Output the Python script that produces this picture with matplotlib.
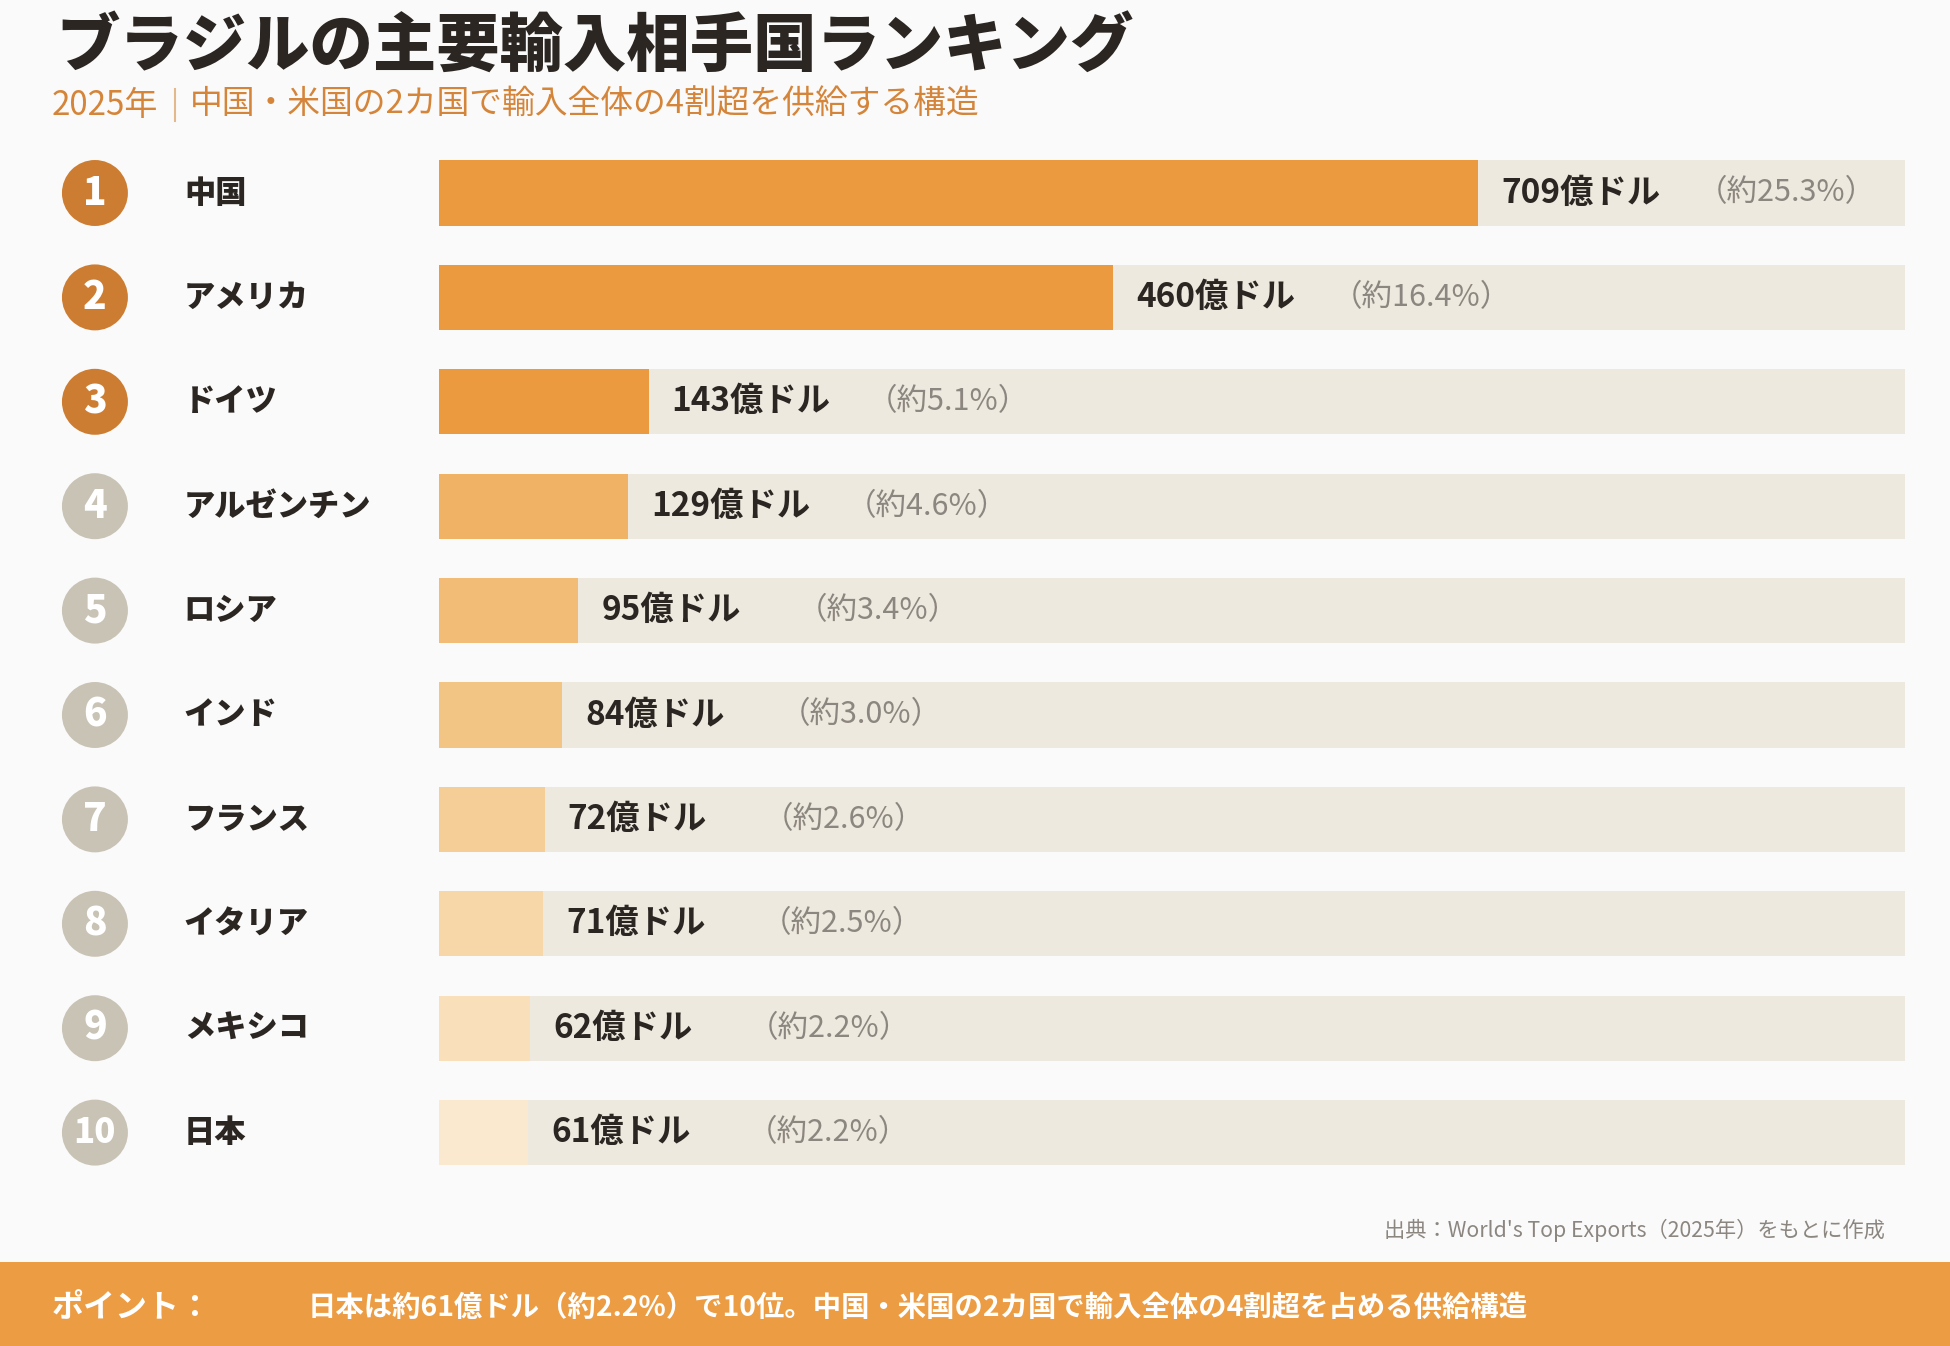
import matplotlib.pyplot as plt
import numpy as np

plt.rcParams['font.family'] = ['Noto Sans CJK JP', 'DejaVu Sans']

# Data
countries = ["中国", "アメリカ", "ドイツ", "アルゼンチン", "ロシア",
             "インド", "フランス", "イタリア", "メキシコ", "日本"]
values = [709, 460, 143, 129, 95, 84, 72, 71, 62, 61]  # 億ドル
shares = [25.3, 16.4, 5.1, 4.6, 3.4, 3.0, 2.6, 2.5, 2.2, 2.2]  # %
ranks = list(range(1, 11))
track_max = 1000

bar_colors = ["#EC9A40", "#EC9A40", "#EC9A40", "#F0B366", "#F2BC76",
              "#F3C585", "#F5CE97", "#F7D7A7", "#F9E0BB", "#FBE9CF"]
badge_colors = ["#CD7D31"] * 3 + ["#C9C3B6"] * 7

W, H = 1950, 1346
fig = plt.figure(figsize=(W / 100, H / 100), dpi=100)
fig.patch.set_facecolor("#FAFAFA")

# Title
fig.text(56 / W, 1 - 48 / H, "ブラジルの主要輸入相手国ランキング",
         fontsize=45.6, fontweight="black", color="#2B2622", va="center", ha="left")
fig.text(52 / W, 1 - 105 / H, "2025年", fontsize=23.8, color="#D5853A",
         va="center", ha="left")
fig.add_artist(plt.Line2D([175 / W, 175 / W], [1 - 89 / H, 1 - 121 / H],
                          color="#E3B88A", lw=1.5))
fig.text(190 / W, 1 - 105 / H, "中国・米国の2カ国で輸入全体の4割超を供給する構造",
         fontsize=23.6, color="#D5853A", va="center", ha="left")

# Bars
row_h = 104.4
ax = fig.add_axes([439 / W, 161.2 / H, 1466 / W, 10 * row_h / H])
ax.set_xlim(0, track_max)
ax.set_ylim(9.5, -0.5)
ax.axis("off")

y = np.arange(len(countries))
ax.barh(y, [track_max] * len(y), height=0.623, color="#EEE9DE", zorder=1)
ax.barh(y, values, height=0.623, color=bar_colors, zorder=2)

tr = ax.get_yaxis_transform()
ax.scatter([-0.2347] * len(y), y, s=2256, c=badge_colors, transform=tr,
           clip_on=False, zorder=3, linewidths=0)
for i in range(len(y)):
    ax.text(-0.2347, y[i], str(ranks[i]), transform=tr, ha="center", va="center",
            fontsize=28 if ranks[i] < 10 else 25, fontweight="black", color="white",
            zorder=4)
    ax.text(-0.174, y[i], countries[i], transform=tr, ha="left", va="center",
            fontsize=22.5, fontweight="black", color="#2B2622")
    ax.annotate(f"{values[i]}億ドル", (values[i], y[i]), xytext=(23, 0),
                textcoords="offset pixels", ha="left", va="center",
                fontsize=24, fontweight="bold", color="#2B2622", zorder=4)
    ax.annotate(f"（約{shares[i]:.1f}%）", (values[i], y[i]), xytext=(218, 0),
                textcoords="offset pixels", ha="left", va="center",
                fontsize=22, color="#8C8680", zorder=4)

# Source
fig.text(1885 / W, 1 - 1230 / H, "出典：World's Top Exports（2025年）をもとに作成",
         fontsize=15.3, color="#8C8680", ha="right", va="center")

# Bottom banner
bax = fig.add_axes([0, 0, 1, 84 / H])
bax.set_facecolor("#EC9C42")
bax.set_xticks([])
bax.set_yticks([])
for s in bax.spines.values():
    s.set_visible(False)
bax.text(52 / W, 0.45, "ポイント：", transform=bax.transAxes, fontsize=23,
         fontweight="bold", color="white", ha="left", va="center")
bax.text(308 / W, 0.45, "日本は約61億ドル（約2.2%）で10位。中国・米国の2カ国で輸入全体の4割超を占める供給構造",
         transform=bax.transAxes, fontsize=20.4, fontweight="bold", color="white",
         ha="left", va="center")

fig.savefig("out.png", dpi=100, facecolor=fig.get_facecolor())
